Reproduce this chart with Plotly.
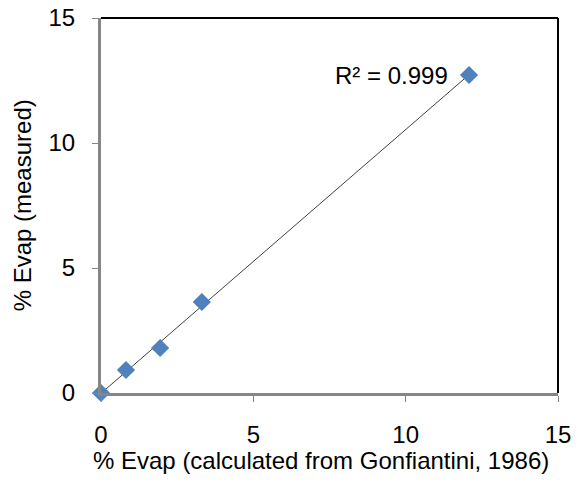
import numpy as np
import plotly.graph_objects as go

# Evaporation percentages: calculated (Gonfiantini, 1986) vs measured
evap_calculated = [0.0, 0.82, 1.94, 3.31, 12.08]
evap_measured = [0.0, 0.92, 1.80, 3.64, 12.72]
r_squared_label = "R² = 0.999"
axis_ticks = [0, 5, 10, 15]
x_title = "% Evap (calculated from Gonfiantini, 1986)"
y_title = "% Evap (measured)"

# Linear trendline fitted to the points
slope, intercept = np.polyfit(evap_calculated, evap_measured, 1)
trend_x = [min(evap_calculated), max(evap_calculated)]
trend_y = [slope * v + intercept for v in trend_x]

font = dict(family="Liberation Sans, Arial, sans-serif", size=24, color="#000000")

fig = go.Figure()
fig.add_trace(go.Scatter(
    x=trend_x, y=trend_y, mode="lines",
    line=dict(color="#404040", width=1), hoverinfo="skip", showlegend=False,
    cliponaxis=False,
))
fig.add_trace(go.Scatter(
    x=evap_calculated, y=evap_measured, mode="markers",
    marker=dict(symbol="diamond", size=14, color="#4F81BD", line=dict(width=0)),
    showlegend=False, cliponaxis=False,
))

fig.add_annotation(
    x=11.45, y=evap_measured[-1], xref="x", yref="y",
    text=r_squared_label, showarrow=False, xanchor="right", yanchor="middle",
    font=font,
)

# Axis titles placed as annotations
fig.add_annotation(
    x=0.481, y=-0.181, xref="paper", yref="paper", text=x_title,
    showarrow=False, xanchor="center", yanchor="middle", font=font,
)
fig.add_annotation(
    x=-0.171, y=0.5, xref="paper", yref="paper", text=y_title, textangle=-90,
    showarrow=False, xanchor="center", yanchor="middle", font=font,
)

axis_common = dict(
    range=[0, 15], tickvals=axis_ticks, showgrid=False, zeroline=False,
    showline=True, linecolor="#868686", linewidth=3,
    ticks="outside", ticklen=6, tickwidth=1, tickcolor="#868686",
    tickfont=font, automargin=False, ticklabelstandoff=12,
)

fig.update_layout(
    width=580, height=480,
    margin=dict(l=101, r=22, t=18, b=87),
    paper_bgcolor="white", plot_bgcolor="white",
    font=font,
    xaxis=dict(**axis_common),
    yaxis=dict(**axis_common),
    shapes=[
        dict(type="line", xref="paper", yref="paper", x0=0, x1=1, y0=1, y1=1,
             line=dict(color="#000000", width=2)),
        dict(type="line", xref="paper", yref="paper", x0=1, x1=1, y0=0, y1=1,
             line=dict(color="#000000", width=2)),
    ],
)

fig.write_html("out.html")
